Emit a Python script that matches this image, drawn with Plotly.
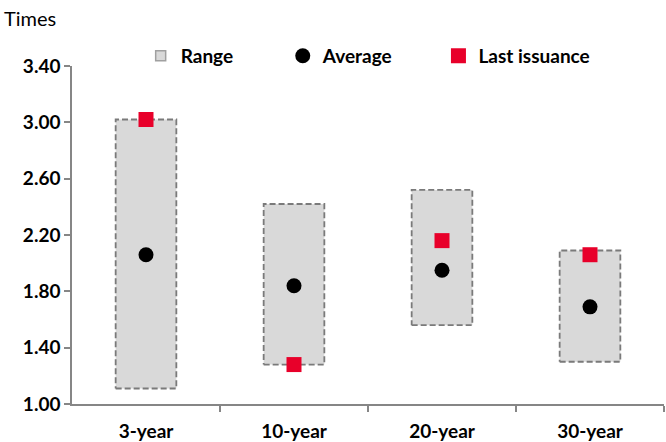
import plotly.graph_objects as go

# Bid-to-cover ratios by tenor
tenors = ["3-year", "10-year", "20-year", "30-year"]
range_low = [1.11, 1.28, 1.56, 1.30]
range_high = [3.02, 2.42, 2.52, 2.09]
average = [2.06, 1.84, 1.95, 1.69]
last_issuance = [3.02, 1.28, 2.16, 2.06]

y_ticks = [1.0, 1.4, 1.8, 2.2, 2.6, 3.0, 3.4]

FONT = "Lato"
FS = 19
GREY = "#868686"
RED = "#E8002A"
BOX_W = 0.41

# range boxes as closed polygons separated by gaps
bx, by = [], []
for i, (lo, hi) in enumerate(zip(range_low, range_high)):
    x0, x1 = i - BOX_W / 2, i + BOX_W / 2
    bx += [x0, x1, x1, x0, x0, None]
    by += [lo, lo, hi, hi, lo, None]

xs = list(range(len(tenors)))

fig = go.Figure()
fig.add_trace(go.Scatter(
    x=bx, y=by, mode="lines", fill="toself", fillcolor="#D9D9D9",
    line=dict(color="#7A7A7A", width=1.8, dash="6px,3px"),
    name="Range", showlegend=False,
))
# compact legend key for the range boxes
fig.add_trace(go.Scatter(
    x=[None], y=[None], mode="markers", name="Range", legend="legend",
    marker=dict(symbol="square", size=10, color="#D9D9D9",
                line=dict(color="#A0A0A0", width=1.5)),
))
fig.add_trace(go.Scatter(
    x=xs, y=average, mode="markers", name="Average", legend="legend2",
    marker=dict(symbol="circle", size=15, color="black"),
))
fig.add_trace(go.Scatter(
    x=xs, y=last_issuance, mode="markers", name="Last issuance", legend="legend3",
    marker=dict(symbol="square", size=15, color=RED),
))

legend_common = dict(
    orientation="h", yanchor="middle", y=1.03, xanchor="left",
    bgcolor="rgba(0,0,0,0)", font=dict(family=FONT, size=FS, color="black", weight="bold"),
    itemwidth=30,
)
fig.update_layout(
    width=666, height=442,
    margin=dict(l=72, r=2, t=66, b=38),
    plot_bgcolor="white", paper_bgcolor="white",
    font=dict(family=FONT, size=FS, color="black"),
    legend=dict(legend_common, x=0.116),
    legend2=dict(legend_common, x=0.356),
    legend3=dict(legend_common, x=0.619),
    xaxis=dict(
        range=[-0.5, 3.5], tickvals=xs, ticktext=tenors, ticks="",
        ticklabelstandoff=9, automargin=False,
        showline=True, linecolor=GREY, linewidth=1.5, showgrid=False, zeroline=False,
        tickfont=dict(family=FONT, size=FS, color="black", weight="bold"),
        minor=dict(tickvals=[0.5, 1.5, 2.5, 3.5], ticks="outside", ticklen=6,
                   tickcolor=GREY, tickwidth=1.5),
        fixedrange=True,
    ),
    yaxis=dict(
        range=[1.0, 3.4], tickvals=y_ticks, tickformat=".2f", ticks="outside",
        ticklen=6, tickcolor=GREY, tickwidth=1.5, automargin=False,
        showline=True, linecolor=GREY, linewidth=1.5, showgrid=False, zeroline=False,
        tickfont=dict(family=FONT, size=FS, color="black", weight="bold"),
        fixedrange=True,
    ),
    annotations=[dict(
        text="Times", xref="paper", yref="paper", x=-0.118, y=1.142,
        xanchor="left", yanchor="middle", showarrow=False,
        font=dict(family=FONT, size=20, color="black"),
    )],
    showlegend=True,
)

fig.write_html("out.html")
